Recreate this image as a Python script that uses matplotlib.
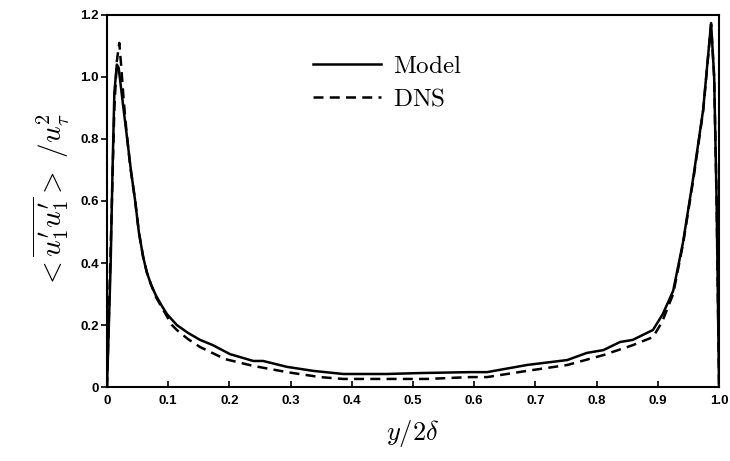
import matplotlib
matplotlib.use("Agg")
import matplotlib.pyplot as plt

plt.rcParams['mathtext.fontset'] = 'cm'

model_x = [0.0, 0.003, 0.006, 0.009, 0.012, 0.016, 0.019, 0.022, 0.028, 0.033, 0.039,
           0.046, 0.052, 0.059, 0.065, 0.072, 0.080, 0.090, 0.098, 0.114, 0.132, 0.152,
           0.173, 0.201, 0.239, 0.255, 0.294, 0.337, 0.386, 0.457, 0.511, 0.593, 0.621,
           0.686, 0.752, 0.784, 0.811, 0.838, 0.859, 0.892, 0.908, 0.925, 0.941, 0.958,
           0.974, 0.987, 0.992, 0.996, 1.0]
model_y = [0.0, 0.20, 0.40, 0.70, 0.95, 1.04, 1.03, 0.98, 0.88, 0.80, 0.70,
           0.60, 0.50, 0.42, 0.37, 0.33, 0.295, 0.26, 0.235, 0.20, 0.175, 0.152,
           0.135, 0.106, 0.084, 0.084, 0.065, 0.052, 0.042, 0.042, 0.045, 0.048, 0.048,
           0.071, 0.087, 0.110, 0.119, 0.145, 0.152, 0.184, 0.235, 0.310, 0.465, 0.677,
           0.894, 1.174, 1.00, 0.60, 0.0]

dns_x = [0.0, 0.004, 0.008, 0.012, 0.016, 0.020, 0.023, 0.027, 0.032, 0.038, 0.046,
         0.052, 0.059, 0.065, 0.072, 0.080, 0.090, 0.106, 0.114, 0.132, 0.152, 0.193,
         0.239, 0.294, 0.348, 0.386, 0.457, 0.523, 0.593, 0.621, 0.686, 0.752, 0.811,
         0.859, 0.892, 0.907, 0.925, 0.941, 0.958, 0.974, 0.987, 0.992, 0.996, 1.0]
dns_y = [0.0, 0.30, 0.60, 0.90, 1.05, 1.11, 1.04, 0.93, 0.82, 0.71, 0.60,
         0.50, 0.42, 0.37, 0.33, 0.29, 0.255, 0.20, 0.184, 0.155, 0.129, 0.090,
         0.068, 0.048, 0.032, 0.026, 0.026, 0.026, 0.032, 0.032, 0.052, 0.071, 0.103,
         0.135, 0.161, 0.21, 0.30, 0.46, 0.67, 0.89, 1.17, 1.00, 0.60, 0.0]

x_ticks = [0, 0.1, 0.2, 0.3, 0.4, 0.5, 0.6, 0.7, 0.8, 0.9, 1.0]
x_tick_labels = ['0', '0.1', '0.2', '0.3', '0.4', '0.5', '0.6', '0.7', '0.8', '0.9', '1.0']
y_ticks = [0, 0.2, 0.4, 0.6, 0.8, 1.0, 1.2]
y_tick_labels = ['0', '0.2', '0.4', '0.6', '0.8', '1.0', '1.2']

fig = plt.figure(figsize=(7.3, 4.61), dpi=100)
ax = fig.add_axes([0.1466, 0.1605, 0.8384, 0.807])

ax.plot(model_x, model_y, color='black', lw=1.8, label=r'$\mathrm{Model}$')
ax.plot(dns_x, dns_y, color='black', lw=1.8, ls=(0, (4, 2.5)), label=r'$\mathrm{DNS}$')

ax.set_xlim(0, 1.0)
ax.set_ylim(0, 1.2)
ax.set_xticks(x_ticks)
ax.set_xticklabels(x_tick_labels)
ax.set_yticks(y_ticks)
ax.set_yticklabels(y_tick_labels)
for lab in ax.get_xticklabels() + ax.get_yticklabels():
    lab.set_fontweight('bold')
    lab.set_fontfamily('Liberation Sans')
    lab.set_fontsize(9.5)
ax.tick_params(axis='x', direction='in', length=4, width=1.2, pad=6)
ax.tick_params(axis='y', direction='out', length=4, width=1.2, pad=2)
for s in ax.spines.values():
    s.set_linewidth(1.5)

ax.set_xlabel(r'$y/2\delta$', fontsize=19, labelpad=8)
ax.set_ylabel(r'$<\overline{u_1^{\prime}u_1^{\prime}}>\ /u_\tau^2$', fontsize=21, labelpad=6)

leg = ax.legend(loc='upper left', bbox_to_anchor=(0.30, 0.955), frameon=False,
                fontsize=18, handlelength=2.7, handletextpad=0.5, labelspacing=0.35)

fig.savefig('out.png', dpi=100)
